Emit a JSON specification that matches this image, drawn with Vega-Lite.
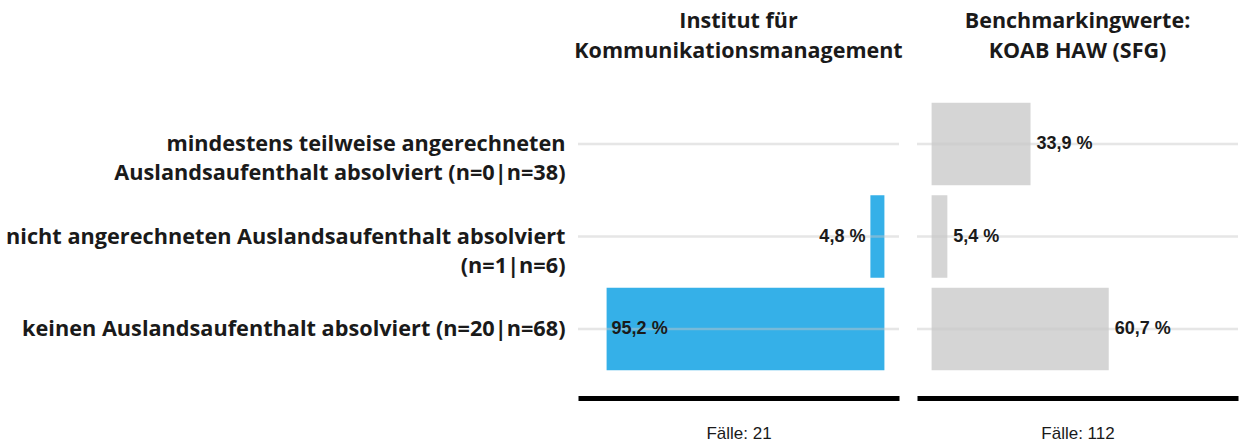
{
  "$schema": "https://vega.github.io/schema/vega-lite/v6.json",
  "background": "white",
  "padding": {"left": 5, "right": 5, "top": 10, "bottom": 2},
  "spacing": 12,
  "config": {"view": {"stroke": null}},
  "datasets": {
    "main": [
      {"cat": "mindestens teilweise angerechneten\nAuslandsaufenthalt absolviert (n=0|n=38)", "group": "inst", "value": 0, "label": "0,0 %"},
      {"cat": "nicht angerechneten Auslandsaufenthalt absolviert\n(n=1|n=6)", "group": "inst", "value": 4.8, "label": "4,8 %"},
      {"cat": "keinen Auslandsaufenthalt absolviert (n=20|n=68)", "group": "inst", "value": 95.2, "label": "95,2 %"},
      {"cat": "mindestens teilweise angerechneten\nAuslandsaufenthalt absolviert (n=0|n=38)", "group": "bench", "value": 33.9, "label": "33,9 %"},
      {"cat": "nicht angerechneten Auslandsaufenthalt absolviert\n(n=1|n=6)", "group": "bench", "value": 5.4, "label": "5,4 %"},
      {"cat": "keinen Auslandsaufenthalt absolviert (n=20|n=68)", "group": "bench", "value": 60.7, "label": "60,7 %"}
    ]
  },
  "hconcat": [
    {
      "width": 321,
      "height": 323,
      "data": {"name": "main"},
      "transform": [{"filter": "datum.group === 'inst'"}],
      "title": {"text": ["Institut für", "Kommunikationsmanagement"], "anchor": "middle", "font": "Open Sans", "fontSize": 21.5, "fontWeight": "bold", "lineHeight": 30, "offset": 13, "color": "#1a1a1a"},
      "encoding": {
        "y": {
          "field": "cat", "type": "nominal", "sort": null,
          "scale": {"paddingInner": 0.108, "paddingOuter": 0.3},
          "axis": {"title": null, "domain": false, "ticks": false, "grid": false, "labelPadding": 13, "labelFont": "Open Sans", "labelFontSize": 21.7, "labelFontWeight": "bold", "labelColor": "#1a1a1a", "labelLineHeight": 29, "labelLimit": 700, "labelExpr": "split(datum.label, '\\n')"}
        }
      },
      "layer": [
        {
          "mark": {"type": "bar", "color": "#35b0e8"},
          "encoding": {
            "x": {"field": "value", "type": "quantitative", "scale": {"domain": [-5, 105], "reverse": true, "nice": false, "zero": false},
              "axis": {"title": "Fälle: 21", "titleFont": "Liberation Sans", "titleFontSize": 17, "titleFontWeight": "normal", "titleColor": "#1a1a1a", "titlePadding": 27, "labels": false, "ticks": false, "grid": false, "domainColor": "black", "domainWidth": 5}}
          }
        },
        {"mark": {"type": "rule", "color": "#c8c8c8", "opacity": 0.45, "strokeWidth": 2.5}, "encoding": {}},
        {
          "transform": [{"filter": "datum.value > 0 && datum.value < 90"}],
          "mark": {"type": "text", "align": "right", "baseline": "middle", "dx": -5, "font": "Liberation Sans", "fontSize": 18, "fontWeight": "bold", "color": "#1a1a1a"},
          "encoding": {"x": {"field": "value", "type": "quantitative"}, "text": {"field": "label"}}
        },
        {
          "transform": [{"filter": "datum.value >= 90"}],
          "mark": {"type": "text", "align": "left", "baseline": "middle", "dx": 5, "font": "Liberation Sans", "fontSize": 18, "fontWeight": "bold", "color": "#1a1a1a"},
          "encoding": {"x": {"field": "value", "type": "quantitative"}, "text": {"field": "label"}}
        }
      ]
    },
    {
      "width": 321,
      "height": 323,
      "data": {"name": "main"},
      "transform": [{"filter": "datum.group === 'bench'"}],
      "title": {"text": ["Benchmarkingwerte:", "KOAB HAW (SFG)"], "anchor": "middle", "font": "Open Sans", "fontSize": 21.5, "fontWeight": "bold", "lineHeight": 30, "offset": 13, "color": "#1a1a1a"},
      "encoding": {
        "y": {
          "field": "cat", "type": "nominal", "sort": null,
          "scale": {"paddingInner": 0.108, "paddingOuter": 0.3},
          "axis": null
        }
      },
      "layer": [
        {
          "mark": {"type": "bar", "color": "#d5d5d5"},
          "encoding": {
            "x": {"field": "value", "type": "quantitative", "scale": {"domain": [-5, 105], "nice": false, "zero": false},
              "axis": {"title": "Fälle: 112", "titleFont": "Liberation Sans", "titleFontSize": 17, "titleFontWeight": "normal", "titleColor": "#1a1a1a", "titlePadding": 27, "labels": false, "ticks": false, "grid": false, "domainColor": "black", "domainWidth": 5}}
          }
        },
        {"mark": {"type": "rule", "color": "#c8c8c8", "opacity": 0.45, "strokeWidth": 2.5}, "encoding": {}},
        {
          "mark": {"type": "text", "align": "left", "baseline": "middle", "dx": 6, "font": "Liberation Sans", "fontSize": 18, "fontWeight": "bold", "color": "#1a1a1a"},
          "encoding": {"x": {"field": "value", "type": "quantitative"}, "text": {"field": "label"}}
        }
      ]
    }
  ]
}
